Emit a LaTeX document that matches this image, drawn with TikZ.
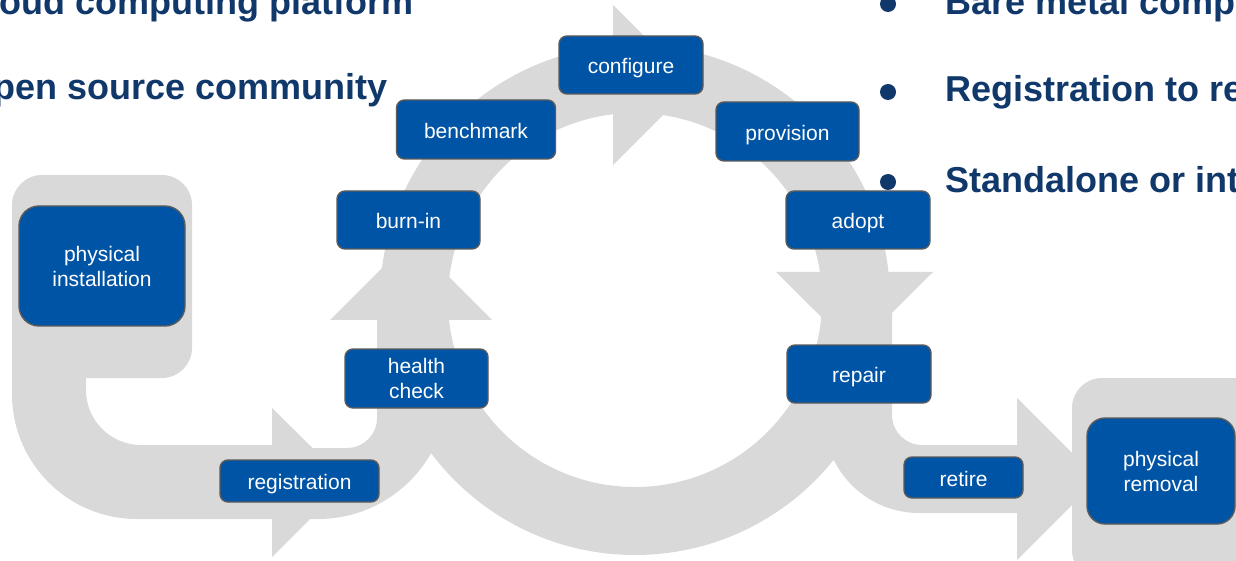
\documentclass[tikz,border=0pt]{standalone}
\usepackage{fontspec}
\setmainfont{Liberation Sans}
\newfontfamily\nodefont{Liberation Sans}
\definecolor{ringgray}{HTML}{D9D9D9}
\definecolor{boxblue}{HTML}{0054A5}
\definecolor{boxline}{HTML}{5B5B5B}
\definecolor{navy}{HTML}{11386A}
\begin{document}
\begin{tikzpicture}[x=1pt,y=1pt,
  stage/.style={draw=boxline, line width=1.4pt, fill=boxblue, rounded corners=8pt,
    text=white, font=\nodefont\fontsize{21}{25}\selectfont, align=center,
    inner sep=0pt, outer sep=0pt},
  oneline/.style={stage, text height=17.5pt, text depth=0pt},
  bigstage/.style={stage, rounded corners=20pt},
  headline/.style={text=navy, font=\bfseries\fontsize{36}{40}\selectfont, inner sep=0pt},
  band/.style={fill=ringgray}]
\useasboundingbox (0,0) rectangle (1236,560);

% ---- gray flow shapes ----
% ring
\fill[band, even odd rule] (635,260) circle[radius=255pt] (635,260) circle[radius=187pt];
% ring arrowheads
\fill[band] (330,240) -- (411,321) -- (492,240) -- cycle;
\fill[band] (613,555) -- (693,475) -- (613,395) -- cycle;
\fill[band] (776,288) -- (854.5,210) -- (933,288) -- cycle;
% installation backdrop
\fill[band, rounded corners=30pt] (12,182) rectangle (192,385);
% arrow A: installation -> registration
\fill[band] (12,260) -- (12,166) arc[start angle=180,end angle=270,radius=125pt]
  -- (272,41) -- (272,3) -- (347,78) -- (272,152) -- (272,115) -- (141,115)
  arc[start angle=270,end angle=180,radius=55pt] -- (86,260) -- cycle;
% arrow B: registration -> health check -> burn-in
\fill[band] (300,41) -- (318,41) arc[start angle=270,end angle=360,radius=130pt]
  -- (448,240) -- (377,240) -- (377,142)
  arc[start angle=0,end angle=-90,radius=30pt] -- (300,112) -- cycle;
% arrow C: repair -> retire -> removal
\fill[band] (824,250) -- (824,142) arc[start angle=180,end angle=270,radius=95pt]
  -- (1017,47) -- (1017,0) -- (1098,81) -- (1017,162) -- (1017,115) -- (922,115)
  arc[start angle=270,end angle=180,radius=30pt] -- (892,250) -- cycle;
% removal backdrop
\fill[band, rounded corners=30pt] (1072,-20) rectangle (1270,182);

% ---- stages ----
\node[bigstage, minimum width=166pt, minimum height=120pt] (install) at (102,294) {physical\\installation};
\node[oneline, minimum width=159pt, minimum height=42pt] (registration) at (299.5,79) {registration};
\node[stage, minimum width=143pt, minimum height=59pt] (health) at (416.5,181.5) {health\\check};
\node[oneline, minimum width=143pt, minimum height=58pt] (burnin) at (408.5,340) {burn-in};
\node[oneline, minimum width=159pt, minimum height=59pt] (benchmark) at (476,430.5) {benchmark};
\node[oneline, minimum width=144pt, minimum height=58pt] (configure) at (631,495) {configure};
\node[oneline, minimum width=143pt, minimum height=59pt] (provision) at (787.5,428.5) {provision};
\node[oneline, minimum width=144pt, minimum height=58pt] (adopt) at (858,340) {adopt};
\node[oneline, minimum width=144pt, minimum height=58pt] (repair) at (859,186) {repair};
\node[oneline, minimum width=119pt, minimum height=41pt] (retire) at (963.5,82.5) {retire};
\node[bigstage, rounded corners=18pt, minimum width=148pt, minimum height=106pt] (removal) at (1161,89) {physical\\removal};

% ---- slide text ----
\node[headline, anchor=base east] (cloud) at (414,545) {Cloud computing platform};
\node[headline, anchor=base east] (open) at (388,460) {Open source community};
\fill[navy] (888,556) circle[radius=8pt];
\fill[navy] (888,468) circle[radius=8pt];
\fill[navy] (888,378) circle[radius=8pt];
\node[headline, anchor=base west] (bare) at (945,545) {Bare metal compute};
\node[headline, anchor=base west] (regis) at (945,458) {Registration to resource};
\node[headline, anchor=base west] (stand) at (945,367) {Standalone or integrated};
\end{tikzpicture}
\end{document}
